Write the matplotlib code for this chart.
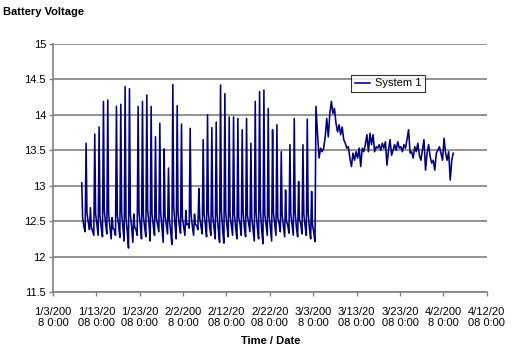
import matplotlib
matplotlib.use("Agg")
import matplotlib.pyplot as plt
import numpy as np

plt.rcParams['font.family'] = ['Liberation Sans', 'DejaVu Sans']

# x axis: days after 1/3/2008 0:00
tick_days = [0, 10, 20, 30, 40, 50, 60, 70, 80, 90, 100]
tick_labels = ["1/3/200\n8 0:00", "1/13/20\n08 0:00", "1/23/20\n08 0:00",
               "2/2/200\n8 0:00", "2/12/20\n08 0:00", "2/22/20\n08 0:00",
               "3/3/200\n8 0:00", "3/13/20\n08 0:00", "3/23/20\n08 0:00",
               "4/2/200\n8 0:00", "4/12/20\n08 0:00"]

# first part: one charge cycle per day (peak, after-peak, evening bump, night low)
cycle_start = 6.63
peaks = [13.04, 13.60, 12.69, 13.73, 13.83, 14.19, 14.21, 12.55, 14.12, 14.15,
         14.40, 14.37, 12.60, 14.12, 14.19, 14.28, 14.12, 13.69, 13.88, 13.52,
         13.25, 14.43, 14.13, 13.87, 12.65, 13.81, 12.60, 12.96, 13.65, 14.00,
         13.82, 13.90, 14.42, 14.30, 13.97, 13.97, 13.95, 13.79, 13.95, 13.60,
         14.19, 14.33, 14.35, 14.09, 13.79, 13.86, 13.48, 12.94, 13.58, 13.95,
         13.06, 13.58, 13.94, 12.92]
mids = [12.55, 12.62, 12.42, 12.60, 12.58, 12.65, 12.60, 12.40, 12.58, 12.62,
        12.55, 12.60, 12.42, 12.62, 12.58, 12.65, 12.60, 12.55, 12.62, 12.58,
        12.52, 12.70, 12.62, 12.55, 12.45, 12.60, 12.45, 12.55, 12.60, 12.62,
        12.58, 12.60, 12.65, 12.62, 12.58, 12.60, 12.55, 12.62, 12.58, 12.55,
        12.62, 12.65, 12.60, 12.58, 12.62, 12.55, 12.58, 12.50, 12.60, 12.62,
        12.52, 12.60, 12.62, 12.45]
bumps = [12.42, 12.48, 12.36, 12.45, 12.40, 12.46, 12.42, 12.38, 12.44, 12.40,
         12.35, 12.42, 12.38, 12.44, 12.41, 12.47, 12.43, 12.45, 12.40, 12.44,
         12.36, 12.45, 12.44, 12.42, 12.46, 12.43, 12.44, 12.42, 12.45, 12.41,
         12.40, 12.38, 12.36, 12.42, 12.44, 12.40, 12.45, 12.41, 12.46, 12.38,
         12.40, 12.36, 12.44, 12.39, 12.45, 12.47, 12.42, 12.44, 12.45, 12.41,
         12.46, 12.43, 12.40, 12.34]
lows = [12.35, 12.38, 12.30, 12.30, 12.28, 12.32, 12.25, 12.30, 12.27, 12.22,
        12.12, 12.20, 12.30, 12.25, 12.28, 12.22, 12.30, 12.35, 12.20, 12.32,
        12.17, 12.25, 12.33, 12.30, 12.40, 12.30, 12.38, 12.32, 12.28, 12.30,
        12.25, 12.20, 12.19, 12.28, 12.30, 12.25, 12.30, 12.28, 12.35, 12.22,
        12.25, 12.18, 12.30, 12.22, 12.30, 12.35, 12.28, 12.33, 12.30, 12.28,
        12.32, 12.30, 12.25, 12.21]

# second part: regular samples from 3/4 to 4/4
steady_start = 60.63
steady_end = 92.3
steady = [14.12, 13.74, 13.39, 13.53, 13.48, 13.53, 13.69, 13.95, 13.69, 14.02,
          14.19, 14.02, 14.09, 13.88, 13.76, 13.86, 13.72, 13.83, 13.65, 13.60,
          13.53, 13.55, 13.39, 13.27, 13.46, 13.36, 13.48, 13.39, 13.53, 13.27,
          13.53, 13.48, 13.58, 13.72, 13.48, 13.74, 13.58, 13.72, 13.48, 13.55,
          13.53, 13.58, 13.50, 13.60, 13.53, 13.62, 13.29, 13.50, 13.65, 13.43,
          13.50, 13.58, 13.50, 13.62, 13.53, 13.55, 13.48, 13.58, 13.53, 13.65,
          13.79, 13.46, 13.48, 13.39, 13.55, 13.48, 13.60, 13.43, 13.36, 13.50,
          13.65, 13.22, 13.46, 13.58, 13.41, 13.32, 13.36, 13.22, 13.46, 13.50,
          13.55, 13.46, 13.36, 13.67, 13.46, 13.36, 13.48, 13.08, 13.36, 13.46]

t = []
v = []
for i in range(len(peaks)):
    t += [cycle_start + i, cycle_start + i + 0.2,
          cycle_start + i + 0.5, cycle_start + i + 0.78]
    v += [peaks[i], mids[i], bumps[i], lows[i]]
t += list(np.linspace(steady_start, steady_end, len(steady)))
v += steady

fig = plt.figure(figsize=(5.15, 3.49), dpi=100)
ax = fig.add_axes([53 / 515, 1 - 292 / 349, (486.7 - 53) / 515, (292 - 44) / 349])

ax.plot(t, v, color='#000080', lw=1.15, label='System 1')

ax.set_xlim(0, 100)
ax.set_ylim(11.5, 15)
ax.set_yticks([11.5, 12, 12.5, 13, 13.5, 14, 14.5, 15])
ax.set_yticklabels(['11.5', '12', '12.5', '13', '13.5', '14', '14.5', '15'])
ax.set_xticks(tick_days)
ax.set_xticklabels(tick_labels)
ax.tick_params(axis='both', labelsize=8, length=3, width=1, color='#808080')
ax.tick_params(axis='y', pad=2)
ax.tick_params(axis='x', pad=7.5)

ax.yaxis.grid(True, color='#808080', lw=1.2)
ax.set_axisbelow(True)
for s in ['top', 'right']:
    ax.spines[s].set_visible(False)
for s in ['left', 'bottom']:
    ax.spines[s].set_color('#808080')
    ax.spines[s].set_linewidth(1.2)

leg = ax.legend(loc='center', bbox_to_anchor=(388 / 515, 1 - 83.5 / 349),
                bbox_transform=fig.transFigure, fontsize=8, frameon=True,
                fancybox=False, handlelength=1.4, handletextpad=0.4,
                borderpad=0.35, borderaxespad=0)
leg.get_frame().set_edgecolor('black')
leg.get_frame().set_linewidth(0.8)

fig.text(3 / 515, 1 - 12 / 349, 'Battery Voltage', fontsize=8, fontweight='bold',
         ha='left', va='center')
fig.text(270.8 / 515, 1 - 341 / 349, 'Time / Date', fontsize=8, fontweight='bold',
         ha='center', va='center')

fig.savefig('out.png', dpi=100)
